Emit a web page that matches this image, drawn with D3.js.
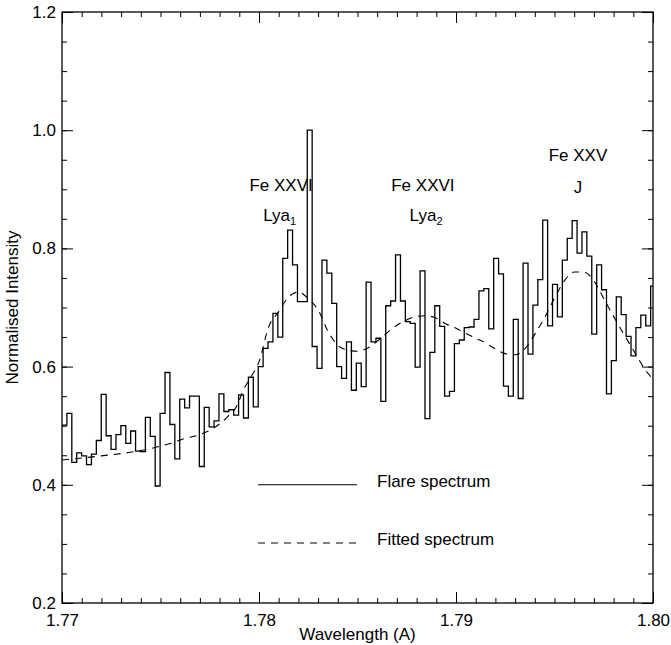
<!DOCTYPE html>
<html>
<head>
<meta charset="utf-8">
<script src="https://cdnjs.cloudflare.com/ajax/libs/d3/7.8.5/d3.min.js"></script>
<style>
  body { margin: 0; background: #fff; }
  text { font-family: "Liberation Sans", Arial, Helvetica, sans-serif; fill: #000; }
</style>
</head>
<body>
<svg id="chart"></svg>
<script>
// spectrum: uniform wavelength bins starting at startWave
var startWave = 1.77
var binWidth = 0.000249
var flux = [
  0.501, 0.521, 0.438, 0.454, 0.449, 0.434, 0.452, 0.475, 0.553, 0.483,
  0.460, 0.485, 0.500, 0.470, 0.491, 0.457, 0.456, 0.514, 0.482, 0.398,
  0.521, 0.590, 0.502, 0.444, 0.545, 0.530, 0.550, 0.550, 0.431, 0.531,
  0.498, 0.508, 0.554, 0.524, 0.527, 0.518, 0.552, 0.513, 0.582, 0.532,
  0.600, 0.631, 0.642, 0.690, 0.650, 0.783, 0.831, 0.772, 0.710, 0.710,
  1.000, 0.634, 0.597, 0.780, 0.758, 0.707, 0.600, 0.580, 0.642, 0.560,
  0.606, 0.566, 0.743, 0.642, 0.648, 0.541, 0.703, 0.711, 0.789, 0.711,
  0.676, 0.673, 0.599, 0.762, 0.512, 0.624, 0.703, 0.668, 0.550, 0.558,
  0.639, 0.645, 0.666, 0.667, 0.680, 0.728, 0.732, 0.664, 0.783, 0.757,
  0.567, 0.550, 0.680, 0.546, 0.775, 0.621, 0.704, 0.747, 0.848, 0.669,
  0.739, 0.684, 0.780, 0.817, 0.847, 0.792, 0.828, 0.787, 0.655, 0.772,
  0.730, 0.554, 0.610, 0.718, 0.688, 0.651, 0.618, 0.666, 0.687, 0.669,
  0.736
]

// fitted spectrum (dashed)
var fitWave = [1.7700, 1.7720, 1.7740, 1.7755, 1.7762, 1.7770, 1.7777, 1.7784, 1.7789, 1.7792,
  1.7796, 1.7800, 1.7805, 1.7810, 1.7815, 1.7820, 1.7825, 1.7830, 1.7835, 1.7840,
  1.7845, 1.7850, 1.7855, 1.7860, 1.7865, 1.7870, 1.7875, 1.7880, 1.7885, 1.7890,
  1.7895, 1.7900, 1.7905, 1.7910, 1.7915, 1.7920, 1.7925, 1.7930, 1.7935, 1.7940,
  1.7945, 1.7950, 1.7955, 1.7960, 1.7965, 1.7970, 1.7975, 1.7980, 1.7985, 1.7990,
  1.7995, 1.8000]
var fitFlux = [0.442, 0.449, 0.458, 0.470, 0.478, 0.485, 0.496, 0.515, 0.535, 0.560,
  0.583, 0.608, 0.668, 0.693, 0.718, 0.726, 0.715, 0.696, 0.660, 0.636,
  0.628, 0.626, 0.631, 0.643, 0.657, 0.670, 0.679, 0.685, 0.686, 0.682,
  0.672, 0.665, 0.656, 0.648, 0.640, 0.630, 0.622, 0.620, 0.630, 0.655,
  0.683, 0.716, 0.745, 0.760, 0.760, 0.745, 0.715, 0.685, 0.656, 0.628,
  0.600, 0.578]

var xMajor = [1.77, 1.78, 1.79, 1.80]
var yMajor = [0.2, 0.4, 0.6, 0.8, 1.0, 1.2]

var lines = [
  { text: "Fe XXVI", sub: "", wave: 1.78112, val: 0.897 },
  { text: "Lya", sub: "1", wave: 1.78105, val: 0.846 },
  { text: "Fe XXVI", sub: "", wave: 1.78832, val: 0.897 },
  { text: "Lya", sub: "2", wave: 1.78848, val: 0.846 },
  { text: "Fe XXV", sub: "", wave: 1.79619, val: 0.948 },
  { text: "J", sub: "", wave: 1.79619, val: 0.894 }
]

var width = 671, height = 645
var margin = { top: 12, left: 62 }
var plotW = 591, plotH = 591
var fontSize = "17px"

var svg = d3.select("#chart").attr("width", width).attr("height", height)
var g = svg.append("g").attr("transform", "translate(" + margin.left + "," + margin.top + ")")

var x = d3.scaleLinear().domain([1.77, 1.80]).range([0, plotW])
var y = d3.scaleLinear().domain([0.2, 1.2]).range([plotH, 0])

var xMinor = d3.range(0, 31).map(function(i) { return 1.77 + i * 0.001 })
var yMinor = d3.range(0, 21).map(function(i) { return 0.2 + i * 0.05 })

function styleAxis(sel) {
  sel.select(".domain").remove()
  sel.selectAll("line").attr("stroke", "#000").attr("stroke-width", 1)
  sel.selectAll("text").style("font-size", fontSize)
}

// bottom axis, ticks pointing in
g.append("g").attr("transform", "translate(0," + plotH + ")")
  .call(d3.axisBottom(x).tickValues(xMajor).tickSizeInner(-11).tickSizeOuter(0).tickPadding(11).tickFormat(d3.format(".2f")))
  .call(styleAxis)
g.append("g").attr("transform", "translate(0," + plotH + ")")
  .call(d3.axisBottom(x).tickValues(xMinor).tickSizeInner(-5).tickSizeOuter(0).tickFormat(""))
  .call(styleAxis)
// top axis
g.append("g")
  .call(d3.axisTop(x).tickValues(xMajor).tickSizeInner(-11).tickSizeOuter(0).tickFormat(""))
  .call(styleAxis)
g.append("g")
  .call(d3.axisTop(x).tickValues(xMinor).tickSizeInner(-5).tickSizeOuter(0).tickFormat(""))
  .call(styleAxis)
// left axis
g.append("g")
  .call(d3.axisLeft(y).tickValues(yMajor).tickSizeInner(-11).tickSizeOuter(0).tickPadding(6).tickFormat(d3.format(".1f")))
  .call(styleAxis)
g.append("g")
  .call(d3.axisLeft(y).tickValues(yMinor).tickSizeInner(-5).tickSizeOuter(0).tickFormat(""))
  .call(styleAxis)
// right axis
g.append("g").attr("transform", "translate(" + plotW + ",0)")
  .call(d3.axisRight(y).tickValues(yMajor).tickSizeInner(-11).tickSizeOuter(0).tickFormat(""))
  .call(styleAxis)
g.append("g").attr("transform", "translate(" + plotW + ",0)")
  .call(d3.axisRight(y).tickValues(yMinor).tickSizeInner(-5).tickSizeOuter(0).tickFormat(""))
  .call(styleAxis)

g.append("rect").attr("width", plotW).attr("height", plotH)
  .attr("fill", "none").attr("stroke", "#000").attr("stroke-width", 1.3)

// clip
svg.append("clipPath").attr("id", "clip").append("rect").attr("width", plotW).attr("height", plotH)
var plot = g.append("g").attr("clip-path", "url(#clip)")

// step histogram
var steps = flux.map(function(v, i) { return [startWave + i * binWidth, v] })
steps.push([startWave + flux.length * binWidth, flux[flux.length - 1]])
plot.append("path")
  .datum(steps)
  .attr("fill", "none").attr("stroke", "#000").attr("stroke-width", 1.3)
  .attr("d", d3.line().curve(d3.curveStepAfter)
    .x(function(d) { return x(d[0]) }).y(function(d) { return y(d[1]) }))

// fitted curve
plot.append("path")
  .datum(d3.zip(fitWave, fitFlux))
  .attr("fill", "none").attr("stroke", "#000").attr("stroke-width", 1.1)
  .attr("stroke-dasharray", "7,6")
  .attr("d", d3.line().curve(d3.curveMonotoneX)
    .x(function(d) { return x(d[0]) }).y(function(d) { return y(d[1]) }))

// line labels
lines.forEach(function(l) {
  var t = g.append("text").attr("x", x(l.wave)).attr("y", y(l.val))
    .attr("text-anchor", "middle").style("font-size", fontSize).text(l.text)
  if (l.sub) t.append("tspan").attr("dy", 4).style("font-size", "11px").text(l.sub)
})

// legend
var legend = [{ label: "Flare spectrum", dash: null, val: 0.400 }, { label: "Fitted spectrum", dash: "7,6", val: 0.3015 }]
legend.forEach(function(d) {
  g.append("line").attr("x1", 196).attr("x2", 295).attr("y1", y(d.val)).attr("y2", y(d.val))
    .attr("stroke", "#000").attr("stroke-width", 1.1).attr("stroke-dasharray", d.dash)
  g.append("text").attr("x", 315).attr("y", y(d.val) + 2).style("font-size", fontSize).text(d.label)
})

// axis titles
svg.append("text").attr("x", margin.left + plotW / 2).attr("y", 640)
  .attr("text-anchor", "middle").style("font-size", fontSize).text("Wavelength (A)")
svg.append("text").attr("transform", "translate(18," + (margin.top + plotH / 2) + ") rotate(-90)")
  .attr("text-anchor", "middle").style("font-size", fontSize).text("Normalised Intensity")
</script>
</body>
</html>
